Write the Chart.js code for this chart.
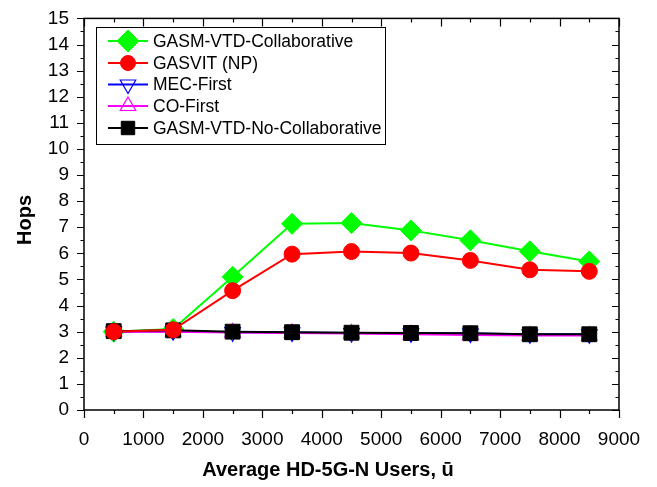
<!DOCTYPE html>
<html>
<head>
<meta charset="utf-8">
<title>Hops vs Average HD-5G-N Users</title>
<script src="https://cdn.jsdelivr.net/npm/chart.js@4.4.1/dist/chart.umd.min.js"></script>
<style>
  body { margin: 0; background: #fff; }
  #wrap { width: 657px; height: 487px; }
</style>
</head>
<body>
<div id="wrap"><canvas id="hopsChart" width="657" height="487"></canvas></div>
<script>
// values
const users = [500, 1500, 2500, 3500, 4500, 5500, 6500, 7500, 8500];
const gasmCollab = [3.0, 3.1, 5.1, 7.13, 7.16, 6.88, 6.5, 6.08, 5.69];
const gasvitNP = [3.0, 3.07, 4.57, 5.97, 6.07, 6.01, 5.73, 5.37, 5.31];
const mecFirst = [3.0, 3.02, 2.98, 2.97, 2.95, 2.94, 2.93, 2.9, 2.9];
const coFirst = [3.0, 3.0, 2.97, 2.95, 2.93, 2.9, 2.87, 2.85, 2.85];
const gasmNoCollab = [3.02, 3.05, 3.0, 2.98, 2.96, 2.95, 2.94, 2.9, 2.9];

const xTicks = [0, 1000, 2000, 3000, 4000, 5000, 6000, 7000, 8000, 9000];
const yTicks = [0, 1, 2, 3, 4, 5, 6, 7, 8, 9, 10, 11, 12, 13, 14, 15];

const xTitle = 'Average HD-5G-N Users, ū';
const yTitle = 'Hops';

const FONT = 'Arial, "Liberation Sans", sans-serif';

function toPoints(vals) {
    return users.map((u, i) => ({ x: u, y: vals[i] }));
}

// frame, in/out tick marks, axis titles and the boxed legend
const framePlugin = {
    id: 'frameTicks',
    afterDraw(chart) {
        const ctx = chart.ctx;
        const area = chart.chartArea;
        const xs = chart.scales.x;
        const ys = chart.scales.y;
        ctx.save();
        ctx.strokeStyle = '#000';
        ctx.lineWidth = 1.5;
        ctx.strokeRect(area.left, area.top, area.right - area.left, area.bottom - area.top);

        ctx.lineWidth = 1.2;
        ctx.beginPath();
        for (let v = xs.min; v <= xs.max; v += 500) {
            const px = Math.round(xs.getPixelForValue(v)) + 0.5;
            const major = xTicks.includes(v);
            const len = major ? 8 : 4;
            ctx.moveTo(px, area.bottom);
            ctx.lineTo(px, area.bottom + len);   // bottom: outward
            ctx.moveTo(px, area.top);
            ctx.lineTo(px, area.top + len);      // top: inward
        }
        for (let v = ys.min; v <= ys.max; v += 0.5) {
            const py = Math.round(ys.getPixelForValue(v)) + 0.5;
            const major = yTicks.includes(v);
            const len = major ? 7 : 3.5;
            ctx.moveTo(area.left, py);
            ctx.lineTo(area.left - len, py);     // left: outward
            ctx.moveTo(area.right, py);
            ctx.lineTo(area.right - len, py);    // right: inward
        }
        ctx.stroke();

        // axis titles
        ctx.fillStyle = '#000';
        ctx.font = 'bold 20px ' + FONT;
        ctx.textAlign = 'center';
        ctx.textBaseline = 'middle';
        ctx.fillText(xTitle, 328, 470);
        ctx.save();
        ctx.translate(25, 220);
        ctx.rotate(-Math.PI / 2);
        ctx.fillText(yTitle, 0, 0);
        ctx.restore();

        // legend box
        const box = { left: 96.5, top: 27.5, right: 385.5, bottom: 144.5 };
        ctx.fillStyle = '#fff';
        ctx.fillRect(box.left, box.top, box.right - box.left, box.bottom - box.top);
        ctx.strokeStyle = '#000';
        ctx.lineWidth = 1;
        ctx.strokeRect(box.left, box.top, box.right - box.left, box.bottom - box.top);

        const rowY = [41, 63, 84.5, 106, 128];
        ctx.font = '17.5px ' + FONT;
        ctx.textAlign = 'left';
        ctx.textBaseline = 'middle';
        chart.data.datasets.forEach((ds, i) => {
            const y = rowY[i];
            ctx.strokeStyle = ds.borderColor;
            ctx.lineWidth = 2;
            ctx.beginPath();
            ctx.moveTo(108, y);
            ctx.lineTo(148, y);
            ctx.stroke();
            ctx.fillStyle = ds.pointBackgroundColor;
            ctx.strokeStyle = ds.borderColor;
            ctx.lineWidth = ds.pointBorderWidth;
            Chart.helpers.drawPoint(ctx, {
                pointStyle: ds.pointStyle,
                rotation: ds.pointRotation || 0,
                radius: ds.legendRadius,
                borderWidth: ds.pointBorderWidth
            }, 128, y);
            ctx.fillStyle = '#000';
            ctx.fillText(ds.label, 153, y + 1);
        });
        ctx.restore();
    }
};

const ctx = document.getElementById('hopsChart').getContext('2d');
const chart = new Chart(ctx, {
    type: 'line',
    data: {
        datasets: [{
            label: 'GASM-VTD-Collaborative',
            data: toPoints(gasmCollab),
            borderColor: '#00ff00',
            pointBackgroundColor: '#00ff00',
            pointBorderColor: '#00ff00',
            pointStyle: 'rectRot',
            pointRadius: 10.5,
            legendRadius: 11,
            pointBorderWidth: 1,
            borderWidth: 2,
            order: 5
        }, {
            label: 'GASVIT (NP)',
            data: toPoints(gasvitNP),
            borderColor: '#ff0000',
            pointBackgroundColor: '#ff0000',
            pointBorderColor: '#ff0000',
            pointStyle: 'circle',
            pointRadius: 8,
            legendRadius: 7.5,
            pointBorderWidth: 1,
            borderWidth: 2,
            order: 1
        }, {
            label: 'MEC-First',
            data: toPoints(mecFirst),
            borderColor: '#0000ff',
            pointBackgroundColor: 'rgba(0,0,0,0)',
            pointBorderColor: '#0000ff',
            pointStyle: 'triangle',
            pointRotation: 180,
            pointRadius: 9,
            legendRadius: 9,
            pointBorderWidth: 1.2,
            borderWidth: 2,
            order: 4
        }, {
            label: 'CO-First',
            data: toPoints(coFirst),
            borderColor: '#ff00ff',
            pointBackgroundColor: 'rgba(0,0,0,0)',
            pointBorderColor: '#ff00ff',
            pointStyle: 'triangle',
            pointRadius: 9,
            legendRadius: 9,
            pointBorderWidth: 1.2,
            borderWidth: 2,
            order: 3
        }, {
            label: 'GASM-VTD-No-Collaborative',
            data: toPoints(gasmNoCollab),
            borderColor: '#000000',
            pointBackgroundColor: '#000000',
            pointBorderColor: '#000000',
            pointStyle: 'rect',
            pointRadius: 10.5,
            legendRadius: 9.5,
            pointBorderWidth: 1,
            borderWidth: 2,
            order: 2
        }]
    },
    options: {
        responsive: false,
        animation: false,
        devicePixelRatio: 1,
        layout: { padding: { top: 17, right: 38, left: 0, bottom: 0 } },
        plugins: {
            legend: { display: false },
            tooltip: { enabled: false }
        },
        scales: {
            x: {
                type: 'linear',
                min: 0,
                max: 9000,
                grid: { display: false },
                border: { display: false },
                ticks: {
                    stepSize: 500,
                    autoSkip: false,
                    maxRotation: 0,
                    padding: 10,
                    color: '#000',
                    font: { family: FONT, size: 19 },
                    callback: v => xTicks.includes(v) ? String(v) : ''
                },
                afterFit: scale => { scale.height = 77; }
            },
            y: {
                min: 0,
                max: 15,
                grid: { display: false },
                border: { display: false },
                ticks: {
                    stepSize: 0.5,
                    autoSkip: false,
                    padding: 7,
                    color: '#000',
                    font: { family: FONT, size: 19 },
                    callback: v => yTicks.includes(v) ? String(v) : ''
                },
                afterFit: scale => { scale.width = 84; }
            }
        }
    },
    plugins: [framePlugin]
});
</script>
</body>
</html>
